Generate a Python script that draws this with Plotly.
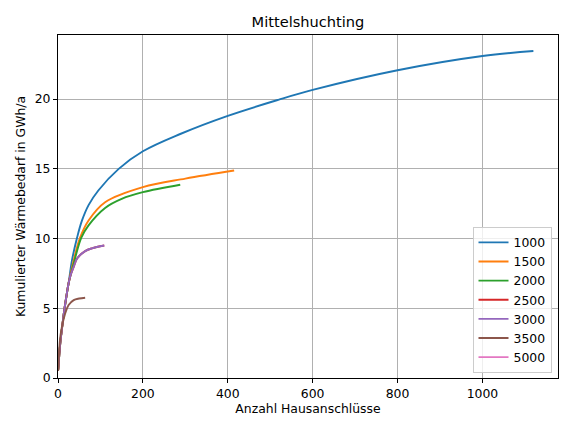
import plotly.graph_objects as go

# Data
series_names = ["1000", "1500", "2000", "2500", "3000", "3500", "5000"]
colors = ["#1f77b4", "#ff7f0e", "#2ca02c", "#d62728", "#9467bd", "#8c564b", "#e377c2"]

x_1000 = [0.5, 5, 10, 15, 20, 25, 33, 45, 56, 72, 95, 143, 200, 288, 400, 519, 600, 800, 1000, 1120]
y_1000 = [0.6, 2.4, 3.7, 4.9, 5.9, 6.8, 8.45, 10.07, 11.25, 12.4, 13.45, 15.0, 16.26, 17.5, 18.8, 19.95, 20.66, 22.07, 23.09, 23.45]

x_1500 = [0.5, 5, 10, 15, 20, 25, 37, 52, 72, 111, 200, 300, 415]
y_1500 = [0.6, 2.4, 3.7, 4.9, 5.9, 6.8, 8.45, 10.07, 11.3, 12.61, 13.69, 14.3, 14.88]

x_2000 = [0.5, 5, 10, 15, 20, 25, 39, 55, 72, 111, 150, 200, 288]
y_2000 = [0.6, 2.4, 3.7, 4.9, 5.9, 6.8, 8.45, 10.07, 10.95, 12.2, 12.85, 13.33, 13.86]

x_2500 = [0.5, 5, 10, 15, 20, 25, 30, 37, 45, 64, 80, 109]
y_2500 = [0.6, 2.4, 3.7, 4.9, 5.9, 6.8, 7.4, 7.97, 8.57, 9.1, 9.3, 9.5]

x_3000 = [0.5, 5, 10, 15, 20, 25, 30, 37, 45, 64, 80, 109]
y_3000 = [0.6, 2.4, 3.7, 4.9, 5.9, 6.8, 7.4, 7.97, 8.57, 9.1, 9.3, 9.5]

x_3500 = [0.3, 1.4, 4.7, 9.4, 17, 25, 37, 50, 64]
y_3500 = [0.5, 1.07, 2.74, 3.69, 4.64, 5.24, 5.59, 5.7, 5.76]

x_5000 = [0]
y_5000 = [0]

xs = [x_1000, x_1500, x_2000, x_2500, x_3000, x_3500, x_5000]
ys = [y_1000, y_1500, y_2000, y_2500, y_3000, y_3500, y_5000]

x_ticks = [0, 200, 400, 600, 800, 1000]
y_ticks = [0, 5, 10, 15, 20]

fig = go.Figure()
for name, c, x, y in zip(series_names, colors, xs, ys):
    fig.add_trace(go.Scatter(
        x=x, y=y, name=name, mode="lines",
        line=dict(color=c, width=1.9, shape="spline", smoothing=1.0),
    ))

font = "DejaVu Sans, sans-serif"
axis_common = dict(
    showline=True, linecolor="black", linewidth=1, mirror=True,
    ticks="outside", ticklen=4, tickwidth=1, tickcolor="black",
    showgrid=True, gridcolor="#b0b0b0", gridwidth=1,
    zeroline=False, automargin=False,
    tickfont=dict(family=font, size=12.4, color="black"),
    title_font=dict(family=font, size=12.4, color="black"),
)

W, H = 562, 419
fig.update_layout(
    width=W, height=H,
    margin=dict(l=50, r=12, t=27, b=49),
    paper_bgcolor="white", plot_bgcolor="white",
    title=dict(text="Mittelshuchting", x=0.5, xref="paper", y=1 - 14 / H,
               yref="container", yanchor="middle", xanchor="center",
               font=dict(family=font, size=14.6, color="black")),
    xaxis=dict(range=[0, 1178], tickvals=x_ticks, title=dict(text="Anzahl Hausanschlüsse", standoff=4), **axis_common),
    yaxis=dict(range=[0, 24.6], tickvals=y_ticks, title=dict(text="Kumulierter Wärmebedarf in GWh/a", standoff=6), **axis_common),
    legend=dict(x=0.987, y=0.015, xanchor="right", yanchor="bottom",
                bgcolor="rgba(255,255,255,0.8)", bordercolor="#cccccc", borderwidth=1,
                font=dict(family=font, size=12.4, color="black"),
                tracegroupgap=0, itemwidth=30),
    showlegend=True,
)

fig.write_html("out.html")
